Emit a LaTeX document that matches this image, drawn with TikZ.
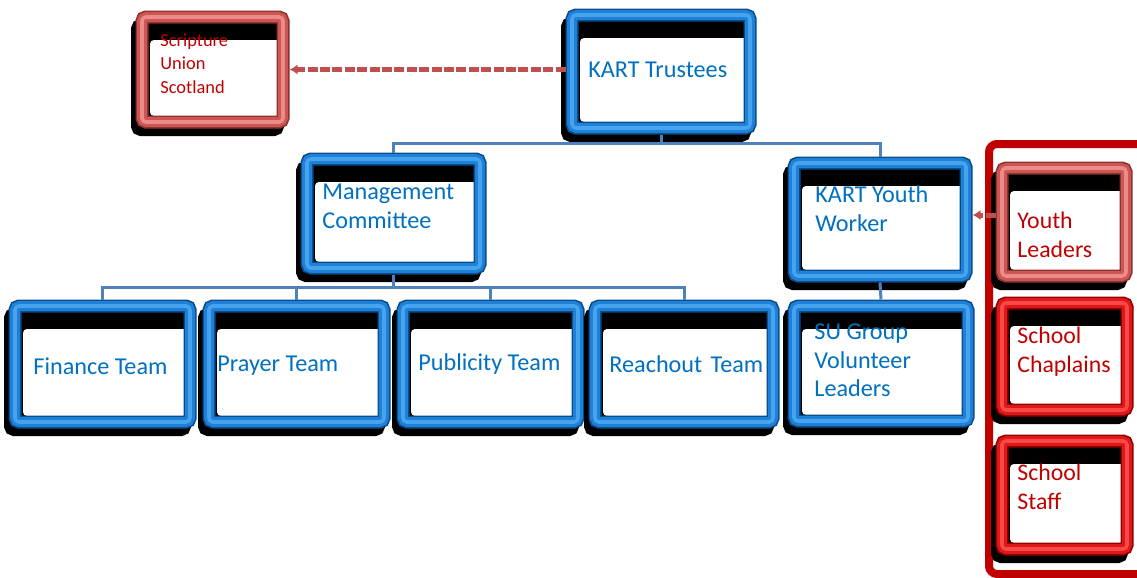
\documentclass[tikz,border=0pt]{standalone}
\usepackage{fontspec}
\setmainfont{Carlito}
\usetikzlibrary{arrows.meta}
\definecolor{txtblue}{HTML}{0070C0}
\definecolor{txtred}{HTML}{C00000}
\definecolor{bdark}{HTML}{0B4E8C}
\definecolor{bmid}{HTML}{1F80D8}
\definecolor{blight}{HTML}{46A3EE}
\definecolor{sdark}{HTML}{8E3330}
\definecolor{smid}{HTML}{CC5653}
\definecolor{slight}{HTML}{EB8C89}
\definecolor{rdark}{HTML}{960000}
\definecolor{rmid}{HTML}{DC1818}
\definecolor{rlight}{HTML}{F84848}
\definecolor{conblue}{HTML}{4F81BD}
\definecolor{dashred}{HTML}{C0504D}
\definecolor{bigred}{HTML}{C00000}
\begin{document}
\begin{tikzpicture}[x=0.5pt,y=-0.5pt,
  framebox/.style n args={3}{rectangle, inner sep=0pt, rounded corners=2pt,
    preaction={draw=black, fill=black, line width=6pt, transform canvas={shift={(-2.5pt,-4pt)}}},
    fill=black,
    path picture={\fill[white] ([xshift=4pt,yshift=-11.5pt]path picture bounding box.north west) rectangle ([yshift=3pt]path picture bounding box.south east);},
    draw=#1, line width=6.5pt,
    postaction={draw=#2, line width=4.8pt},
    postaction={draw=#3, line width=1.8pt}},
  bluebox/.style={framebox={bdark}{bmid}{blight}},
  salmonbox/.style={framebox={sdark}{smid}{slight}},
  redbox/.style={framebox={rdark}{rmid}{rlight}},
  sz/.style 2 args={minimum width=#1, minimum height=#2},
  btext/.style={anchor=west, align=left, inner sep=0pt, text=txtblue, font=\fontsize{12.1pt}{14.25pt}\selectfont},
  rtext/.style={anchor=west, align=left, inner sep=0pt, text=txtred, font=\fontsize{11.9pt}{14.5pt}\selectfont},
  stext/.style={anchor=west, align=left, inner sep=0pt, text=txtred, font=\fontsize{9.2pt}{11.75pt}\selectfont},
  conn/.style={draw=conblue, line width=1.5pt},
  dashconn/.style={draw=dashred, line width=2.5pt, dash pattern=on 5pt off 1.2pt, -{Latex[length=4pt,width=5pt]}},
]
\useasboundingbox (0,0) rectangle (1137,578);

% big red frame
\draw[bigred, line width=4pt, rounded corners=4pt] (1145,144) -- (989,144) -- (989,574) -- (1145,574);

% boxes
\node[salmonbox, sz={70.5pt}{52.5pt}] (su) at (212.5,69.5) {};
\node[bluebox, sz={89pt}{56.5pt}] (kt) at (661,71.5) {};
\node[bluebox, sz={86.5pt}{54.5pt}] (mc) at (393.5,213.5) {};
\node[bluebox, sz={86pt}{56.5pt}] (yw) at (880,219.5) {};
\node[salmonbox, sz={62pt}{54pt}] (yl) at (1064,222) {};
\node[bluebox, sz={87.5pt}{58pt}] (fin) at (102.5,364) {};
\node[bluebox, sz={87.5pt}{58pt}] (pra) at (296.5,364) {};
\node[bluebox, sz={87.5pt}{58pt}] (pub) at (490.5,364) {};
\node[bluebox, sz={89pt}{58pt}] (rea) at (684,364) {};
\node[bluebox, sz={87pt}{57.5pt}] (sug) at (881,363.5) {};
\node[redbox, sz={62.5pt}{53.5pt}] (sch) at (1064.5,356.5) {};
\node[redbox, sz={62.5pt}{54pt}] (sst) at (1064.5,495) {};

% texts
\node[stext] (tsu) at (160,63.5) {Scripture\\Union\\Scotland};
\node[btext] (tkt) at (588,70) {KART Trustees};
\node[btext] (tmc) at (322,206.5) {Management\\Committee};
\node[btext] (tyw) at (815,208.5) {KART Youth\\Worker};
\node[rtext] (tyl) at (1017,235) {Youth\\Leaders};
\node[btext] (tfin) at (33,366) {Finance Team};
\node[btext] (tpra) at (217,366) {Prayer Team};
\node[btext] (tpub) at (418,364) {Publicity Team};
\node[btext] (trea) at (609,364) {Reachout\hspace{0.12em} Team};
\node[btext] (tsug) at (814,360.5) {SU Group\\Volunteer\\Leaders};
\node[rtext] (tsch) at (1017,352) {School\\Chaplains};
\node[rtext] (tsst) at (1017,486.5) {School\\Staff};

% connectors
\coordinate (j1) at (661,143);
\coordinate (j2) at (396,287);
\coordinate (j3) at (980,215);
\draw[conn] (kt.south) -- (kt.south |- j1);
\draw[conn] (mc.north) |- (yw.north |- j1) -- (yw.north);
\draw[conn] (mc.south) -- (mc.south |- j2);
\draw[conn] (fin.north) |- (rea.north |- j2) -- (rea.north);
\draw[conn] (pra.north) -- (pra.north |- j2);
\draw[conn] (pub.north) -- (pub.north |- j2);
\draw[conn] (yw.south) -- (sug.north);
\draw[dashconn] (kt.west |- su.east) -- (su.east);
\draw[dashconn] (yl.west |- j3) -- (yw.east |- j3);
\end{tikzpicture}
\end{document}
